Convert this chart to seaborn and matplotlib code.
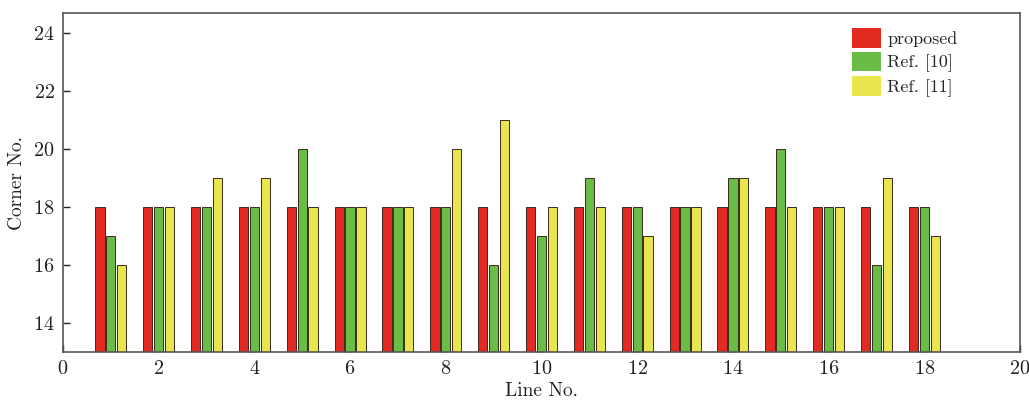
import matplotlib
matplotlib.use("Agg")
import matplotlib.pyplot as plt
import seaborn as sns
import pandas as pd

lines = list(range(1, 19))
proposed = [18] * 18
ref10 = [17, 18, 18, 18, 20, 18, 18, 18, 16, 17, 19, 18, 18, 19, 20, 18, 16, 18]
ref11 = [16, 18, 19, 19, 18, 18, 18, 20, 21, 18, 18, 17, 18, 19, 18, 18, 19, 17]
methods = ["proposed", "Ref. [10]", "Ref. [11]"]
colors = ["#e32a22", "#69bd45", "#e9e64d"]

df = pd.DataFrame({
    "Line No.": lines * 3,
    "Corner No.": proposed + ref10 + ref11,
    "method": [methods[0]] * 18 + [methods[1]] * 18 + [methods[2]] * 18,
})

sns.set_theme(style="ticks")
plt.rcParams["font.family"] = ["cmr10", "DejaVu Serif"]
plt.rcParams["axes.formatter.use_mathtext"] = True
plt.rcParams["mathtext.fontset"] = "cm"

fig = plt.figure(figsize=(10.29, 4.0), dpi=100)
ax = fig.add_axes([0.0612, 0.12, 0.9301, 0.8475])

sns.barplot(data=df, x="Line No.", y="Corner No.", hue="method",
            hue_order=methods, palette=colors, native_scale=True,
            width=0.68, gap=0.14, edgecolor="#3a2a20", linewidth=0.7,
            saturation=1, ax=ax)

ax.set_xlim(0, 20)
ax.set_ylim(13, 24.7)
ax.set_xticks(range(0, 21, 2))
ax.set_yticks(range(14, 25, 2))
ax.tick_params(direction="in", length=5, width=1, labelsize=14.5, colors="#222222",
               top=False, right=False, pad=6)
for s in ax.spines.values():
    s.set_color("#555555")
    s.set_linewidth(1.2)
ax.set_xlabel("Line No.", fontsize=14, labelpad=3, color="#222222")
ax.set_ylabel("Corner No.", fontsize=14, labelpad=5, color="#222222")

leg = ax.legend(loc="upper left", bbox_to_anchor=(0.8245, 0.955), frameon=False,
                fontsize=13, handlelength=1.6, handleheight=1.3,
                handletextpad=0.35, labelspacing=0.2, borderpad=0, borderaxespad=0)
for h in leg.legend_handles:
    h.set_edgecolor("none")

fig.savefig("out.png", dpi=100)
